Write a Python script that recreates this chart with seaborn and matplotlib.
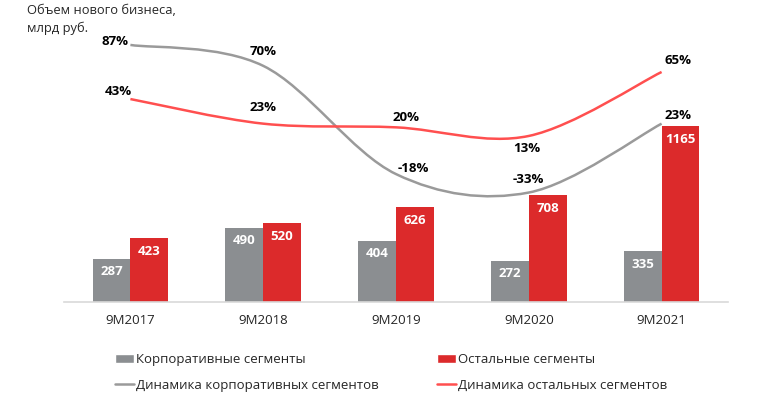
import numpy as np
import pandas as pd
import matplotlib
matplotlib.use("Agg")
import matplotlib.pyplot as plt
import seaborn as sns
from matplotlib.path import Path
from matplotlib.patches import PathPatch, Patch
from matplotlib.lines import Line2D

# ---- data ----
periods = ["9M2017", "9M2018", "9M2019", "9M2020", "9M2021"]
corp_volume = [287, 490, 404, 272, 335]
other_volume = [423, 520, 626, 708, 1165]
corp_growth = [87, 70, -18, -33, 23]
other_growth = [43, 23, 20, 13, 65]
bar_names = ["Корпоративные сегменты", "Остальные сегменты"]
line_names = ["Динамика корпоративных сегментов", "Динамика остальных сегментов"]
title = "Объем нового бизнеса,\nмлрд руб."

# ---- style ----
GRAY = "#8b8e91"
RED = "#dc2a2b"
GRAY_LINE = "#9a9a9a"
RED_LINE = "#ff4f4f"

sns.set_style("white")
plt.rcParams["font.family"] = ["Open Sans", "DejaVu Sans"]

W, H = 760, 399
fig = plt.figure(figsize=(W / 100, H / 100), dpi=100)
ax = fig.add_axes([64 / W, 97 / H, 664 / W, 292 / H])

df = pd.DataFrame({
    "period": periods * 2,
    "value": corp_volume + other_volume,
    "segment": [bar_names[0]] * len(periods) + [bar_names[1]] * len(periods),
})
sns.barplot(data=df, x="period", y="value", hue="segment", order=periods,
            hue_order=bar_names, palette=[GRAY, RED], width=0.57, gap=0,
            saturation=1, legend=False, ax=ax, edgecolor="none", linewidth=0)

ax.set_xlim(-0.5, 4.5)
ax.set_ylim(0, 1934)
ax.set_xlabel("")
ax.set_ylabel("")
ax.set_yticks([])
for s in ["top", "left", "right"]:
    ax.spines[s].set_visible(False)
ax.spines["bottom"].set_color("#d9d9d9")
ax.spines["bottom"].set_linewidth(1.2)
ax.tick_params(axis="x", length=0, pad=9, labelsize=9.5, labelcolor="#262626")

for cont in ax.containers:
    ax.bar_label(cont, padding=-14, color="white", fontweight="bold", fontsize=9.5)

# ---- growth lines on secondary axis ----
ax2 = ax.twinx()
ax2.set_ylim(-122, 115.4)
ax2.set_yticks([])
for s in ax2.spines.values():
    s.set_visible(False)


def smooth_path(xs, ys):
    pts = np.column_stack([xs, ys]).astype(float)
    n = len(pts)
    verts = [pts[0]]
    codes = [Path.MOVETO]
    for i in range(n - 1):
        p0 = pts[i - 1] if i > 0 else pts[i]
        p1 = pts[i]
        p2 = pts[i + 1]
        p3 = pts[i + 2] if i + 2 < n else pts[i + 1]
        c1 = p1 + (p2 - p0) / 6.0
        c2 = p2 - (p3 - p1) / 6.0
        verts += [c1, c2, p2]
        codes += [Path.CURVE4] * 3
    return Path(verts, codes)


xs = np.arange(len(periods))
for vals, col in [(corp_growth, GRAY_LINE), (other_growth, RED_LINE)]:
    ax2.add_patch(PathPatch(smooth_path(xs, vals), facecolor="none",
                            edgecolor=col, linewidth=1.8, capstyle="butt"))

corp_off = [(-15, 3), (0, 14), (17, 6), (0, 13), (16, 8)]
other_off = [(-12, 8), (0, 16), (10, 10), (-2, -13), (16, 11)]
for vals, offs in [(corp_growth, corp_off), (other_growth, other_off)]:
    for x, v, (dx, dy) in zip(xs, vals, offs):
        ax2.annotate(f"{v}%", (x, v), xytext=(dx, dy), textcoords="offset pixels",
                     ha="center", va="center", fontsize=9.5, fontweight="bold",
                     color="black")

# ---- title ----
fig.text(27 / W, 1 - 4 / H, title, ha="left", va="top", fontsize=9.3,
         color="#262626", linespacing=1.45)

# ---- legends ----
leg_kw = dict(loc="upper left", frameon=False, fontsize=9.5, borderpad=0,
              borderaxespad=0, handlelength=1.45, handletextpad=0.15,
              labelspacing=0.98, labelcolor="#262626")
fig.legend([Patch(facecolor=GRAY), Line2D([], [], color=GRAY_LINE, lw=1.8)],
           [bar_names[0], line_names[0]], bbox_to_anchor=(115 / W, 1 - 353 / H), **leg_kw)
fig.legend([Patch(facecolor=RED), Line2D([], [], color=RED_LINE, lw=1.8)],
           [bar_names[1], line_names[1]], bbox_to_anchor=(437 / W, 1 - 353 / H), **leg_kw)

fig.savefig("out.png", dpi=100)
